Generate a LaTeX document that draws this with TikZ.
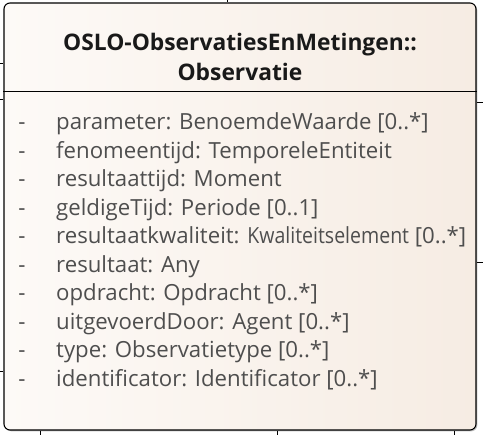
\documentclass[tikz,border=0pt]{standalone}
\usepackage{fontspec}
\setmainfont{Open Sans}
\usetikzlibrary{shadows}
\definecolor{boxleft}{RGB}{253,250,247}
\definecolor{boxright}{RGB}{246,236,227}
\definecolor{attrgray}{RGB}{78,78,78}
\begin{document}
\begin{tikzpicture}[x=1pt,y=-1pt,
  classbox/.style={draw, line width=1.1pt, rounded corners=6pt, left color=boxleft, right color=boxright,
    drop shadow={shadow xshift=1.3pt, shadow yshift=-1.3pt, opacity=0.5},
    minimum width=472pt, minimum height=427pt, inner sep=0pt},
  title/.style={font=\fontsize{22.8}{26}\selectfont\bfseries, text=black!90, inner sep=0pt},
  attr/.style={font=\fontsize{22.2}{26}\selectfont, text=attrgray, anchor=base west, inner sep=0pt},
  minus/.style={font=\fontsize{22.2}{26}\selectfont, text=attrgray, anchor=base, inner sep=0pt},
  stub/.style={line width=1pt}]
\useasboundingbox (0,0) rectangle (483,435);
\node[classbox] (obs) at (240,216.5){};
\draw[line width=1pt] (obs.west |- 0,92) -- (obs.east |- 0,92);
\node[title] (name0) at (240,45){OSLO-ObservatiesEnMetingen::};
\node[title] (name1) at (240,72){Observatie};
\node[minus] (minus0) at (22,130){-};
\node[attr] (attr0) at (56,130){parameter: BenoemdeWaarde [0..*]};
\node[minus] (minus1) at (22,158.5){-};
\node[attr] (attr1) at (56,158.5){fenomeentijd: TemporeleEntiteit};
\node[minus] (minus2) at (22,187){-};
\node[attr] (attr2) at (56,187){resultaattijd: Moment};
\node[minus] (minus3) at (22,215.5){-};
\node[attr] (attr3) at (56,215.5){geldigeTijd: Periode [0..1]};
\node[minus] (minus4) at (22,244){-};
\node[attr] (attr4) at (56,244){resultaatkwaliteit: \scalebox{0.88}[1]{Kwaliteitselement} [0..*]};
\node[minus] (minus5) at (22,272.5){-};
\node[attr] (attr5) at (56,272.5){resultaat: Any};
\node[minus] (minus6) at (22,301){-};
\node[attr] (attr6) at (56,301){opdracht: Opdracht [0..*]};
\node[minus] (minus7) at (22,329.5){-};
\node[attr] (attr7) at (56,329.5){uitgevoerdDoor: Agent [0..*]};
\node[minus] (minus8) at (22,358){-};
\node[attr] (attr8) at (56,358){type: Observatietype [0..*]};
\node[minus] (minus9) at (22,386.5){-};
\node[attr] (attr9) at (56,386.5){identificator: Identificator [0..*]};
\coordinate (top0) at (227,0);
\coordinate (left0) at (0,64);
\coordinate (left1) at (0,100);
\coordinate (left2) at (0,372);
\coordinate (right0) at (483,103);
\coordinate (right1) at (483,263);
\coordinate (bot0) at (40,435);
\coordinate (bot1) at (277,435);
\coordinate (bot2) at (454,435);
\draw[stub](top0) -- (top0 |- obs.north);
\draw[stub](left0) -- (left0 -| obs.west);
\draw[stub](left1) -- (left1 -| obs.west);
\draw[stub](left2) -- (left2 -| obs.west);
\draw[stub](right0) -- (right0 -| obs.east);
\draw[stub](right1) -- (right1 -| obs.east);
\draw[stub](bot0) -- (bot0 |- obs.south);
\draw[stub](bot1) -- (bot1 |- obs.south);
\draw[stub](bot2) -- (bot2 |- obs.south);
\end{tikzpicture}
\end{document}
